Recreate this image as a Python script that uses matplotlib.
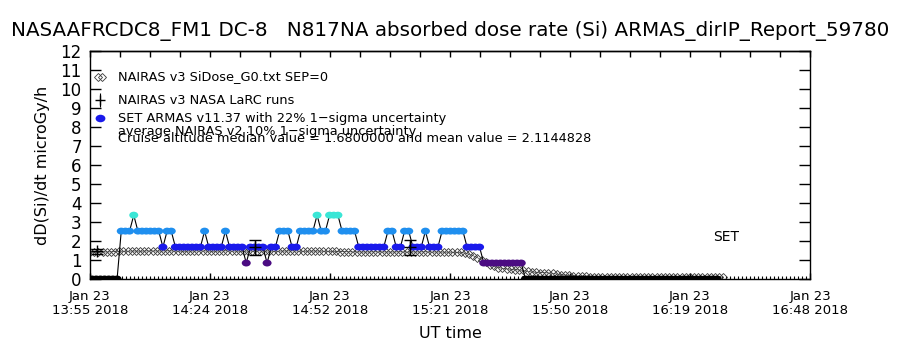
import matplotlib
matplotlib.use("Agg")
import matplotlib.pyplot as plt
import numpy as np
from matplotlib.path import Path
from matplotlib.ticker import MultipleLocator, FixedLocator

plt.rcParams['font.family'] = ['DejaVu Sans']

# ---------------- data ----------------
title = "NASAAFRCDC8_FM1 DC-8   N817NA absorbed dose rate (Si) ARMAS_dirIP_Report_59780"
tick_labels = ["Jan 23\n13:55 2018", "Jan 23\n14:24 2018", "Jan 23\n14:52 2018",
               "Jan 23\n15:21 2018", "Jan 23\n15:50 2018", "Jan 23\n16:19 2018",
               "Jan 23\n16:48 2018"]
x_span_min = 172.8          # minutes covered by the axis (13:55 -> 16:48)

# SET ARMAS dose rate, one value per minute, first sample at minute 0.5
armas_start = 0.5
armas_rate = [
    0, 0, 0, 0, 0, 0, 0,
    2.52, 2.52, 2.52, 3.36, 2.52, 2.52, 2.52, 2.52, 2.52, 2.52, 1.68, 2.52, 2.52,
    1.68, 1.68, 1.68, 1.68, 1.68, 1.68, 1.68, 2.52, 1.68, 1.68, 1.68, 1.68, 2.52,
    1.68, 1.68, 1.68, 1.68, 0.84, 1.68, 1.68, 1.68, 1.68, 0.84, 1.68, 1.68,
    2.52, 2.52, 2.52, 1.68, 1.68, 2.52, 2.52, 2.52, 2.52, 3.36, 2.52, 2.52,
    3.36, 3.36, 3.36, 2.52, 2.52, 2.52, 2.52, 1.68, 1.68, 1.68, 1.68, 1.68, 1.68, 1.68,
    2.52, 2.52, 1.68, 1.68, 2.52, 2.52, 1.68, 1.68, 1.68, 2.52, 1.68, 1.68, 1.68,
    2.52, 2.52, 2.52, 2.52, 2.52, 2.52, 1.68, 1.68, 1.68, 1.68,
    0.84, 0.84, 0.84, 0.84, 0.84, 0.84, 0.84, 0.84, 0.84, 0.84,
    0, 0, 0, 0, 0, 0, 0, 0, 0, 0, 0, 0, 0, 0, 0, 0, 0, 0, 0, 0, 0, 0, 0, 0,
    0, 0, 0, 0, 0, 0, 0, 0, 0, 0, 0, 0, 0, 0, 0, 0, 0, 0, 0, 0, 0, 0, 0,
]
level_values = [0.0, 0.84, 1.68, 2.52, 3.36]
level_colors = ['#000000', '#4b0c82', '#1a1aeb', '#1f8fef', '#3ae6d6']

# NAIRAS v3 SiDose, one value per minute from minute 0
nairas_rate = [
    1.40, 1.40, 1.41, 1.42, 1.42, 1.43, 1.44, 1.45, 1.46, 1.46,
    1.47, 1.47, 1.46, 1.47, 1.48, 1.48, 1.47, 1.47, 1.48, 1.48,
    1.47, 1.47, 1.46, 1.46, 1.47, 1.47, 1.48, 1.48, 1.47, 1.46,
    1.46, 1.47, 1.48, 1.48, 1.47, 1.47, 1.46, 1.46, 1.47, 1.47,
    1.48, 1.48, 1.47, 1.47, 1.46, 1.46, 1.47, 1.47, 1.48, 1.48,
    1.47, 1.46, 1.46, 1.47, 1.47, 1.47, 1.46, 1.46, 1.45, 1.45,
    1.44, 1.44, 1.43, 1.43, 1.43, 1.42, 1.42, 1.42, 1.43, 1.43,
    1.43, 1.42, 1.42, 1.42, 1.43, 1.43, 1.42, 1.42, 1.42, 1.42,
    1.43, 1.43, 1.42, 1.42, 1.42, 1.41, 1.41, 1.41, 1.40, 1.40,
    1.36, 1.30, 1.22, 1.12, 1.00, 0.88, 0.76, 0.66, 0.60, 0.56,
    0.53, 0.51, 0.49, 0.47, 0.45, 0.40, 0.37, 0.35, 0.34, 0.33,
    0.32, 0.30, 0.26, 0.23, 0.21, 0.19, 0.17, 0.15, 0.14, 0.14,
    0.13, 0.13, 0.13, 0.12, 0.12, 0.12, 0.12, 0.11, 0.11, 0.11,
    0.11, 0.11, 0.10, 0.10, 0.10, 0.10, 0.10, 0.10, 0.10, 0.10,
    0.10, 0.10, 0.10, 0.10, 0.10, 0.10, 0.10, 0.10, 0.10, 0.10,
    0.10, 0.10, 0.10,
]

# NAIRAS v3 NASA LaRC runs (minute, value, error)
larc_min = [1.7, 39.6, 76.8]
larc_val = [1.45, 1.66, 1.66]
larc_err = [0.13, 0.40, 0.40]

legend_lines = [
    "NAIRAS v3 SiDose_G0.txt SEP=0",
    "NAIRAS v3 NASA LaRC runs",
    "SET ARMAS v11.37 with 22% 1\u2212sigma uncertainty",
    "average NAIRAS v2 10% 1\u2212sigma uncertainty",
    "Cruise altitude median value = 1.6800000 and mean value = 2.1144828",
]

# ---------------- figure ----------------
fig = plt.figure(figsize=(9, 3.5), dpi=100)
ax = fig.add_axes([0.1, 0.2029, 0.8, 0.6514])
ax.set_xlim(0, x_span_min)
ax.set_ylim(0, 12)

# NAIRAS curve (open diamonds)
nx = np.arange(len(nairas_rate))
ax.plot(nx, nairas_rate, color='#404040', lw=0.5, marker='D', ms=3.6,
        mfc='none', mec='#383838', mew=0.6, zorder=2)

# ARMAS line + coloured points
ax_x = armas_start + np.arange(len(armas_rate))
ay = np.array(armas_rate, dtype=float)
ax.plot(ax_x, ay, color='black', lw=0.8, zorder=3)
circ = Path.unit_circle()
ell = Path(circ.vertices * np.array([1.3, 1.0]), circ.codes)
cols = []
for v in ay:
    idx = int(np.argmin([abs(v - lv) for lv in level_values]))
    cols.append(level_colors[idx])
ax.scatter(ax_x, ay, c=cols, marker=ell, s=42, linewidths=0, zorder=4)

# LaRC runs
ax.errorbar(larc_min, larc_val, yerr=larc_err, fmt='+', color='black',
            ms=8, mew=1.0, elinewidth=1.0, capsize=4, capthick=1.0, zorder=5)

# ticks
major = [i * x_span_min / 6 for i in range(7)]
ax.xaxis.set_major_locator(FixedLocator(major))
ax.xaxis.set_minor_locator(MultipleLocator(x_span_min / 180))
ax.set_xticklabels(tick_labels, fontsize=9.5, linespacing=1.12)
ax.set_yticks(range(13))
ax.set_yticklabels([str(i) for i in range(13)], fontsize=12)
ax.tick_params(axis='x', which='major', direction='in', length=4.5, width=1,
               pad=8, top=False)
ax.tick_params(axis='x', which='minor', direction='in', length=2.2, width=0.8,
               top=False)
ax.tick_params(axis='y', which='major', direction='in', length=8, width=1,
               left=True, right=True, pad=6)
for s in ax.spines.values():
    s.set_linewidth(1.0)

sec = ax.secondary_xaxis('top')
sec.set_xticks(np.arange(0, x_span_min + 0.01, x_span_min / 24))
sec.tick_params(direction='in', length=4, width=1, labeltop=False)
sec.spines['top'].set_linewidth(1.0)

ax.set_xlabel("UT time", fontsize=11.5, labelpad=6)
ax.set_ylabel("dD(Si)/dt microGy/h", fontsize=11.5, labelpad=7.5)

fig.text(0.5, 1 - 31 / 350, title, ha='center', va='center', fontsize=14.3)

# legend
tx = 0.039
ys = [0.886, 0.785, 0.706, 0.645, 0.615]
for t, yy in zip(legend_lines, ys):
    ax.text(tx, yy, t, transform=ax.transAxes, fontsize=9.3, va='center',
            ha='left', zorder=6)
ax.plot([0.011, 0.017], [0.886, 0.886], transform=ax.transAxes, ls='none',
        marker='D', ms=3.6, mfc='none', mec='#383838', mew=0.6)
ax.errorbar([0.014], [0.785], yerr=[0.03], fmt='+', color='black', ms=7,
            transform=ax.transAxes, capsize=0, elinewidth=0.8)
ax.scatter([0.014], [0.706], c=[level_colors[2]], marker=ell, s=50,
           linewidths=0, transform=ax.transAxes)
ax.text(0.883, 0.184, "SET", transform=ax.transAxes, fontsize=10,
        ha='center', va='center')

fig.savefig("out.png", dpi=100)
